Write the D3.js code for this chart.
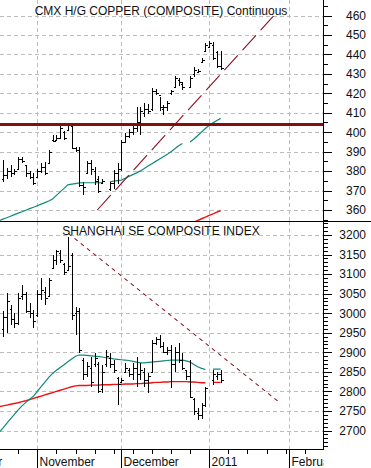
<!DOCTYPE html>
<html>
<head>
<meta charset="utf-8">
<script src="https://cdn.jsdelivr.net/npm/d3@7"></script>
<style>
  body { margin: 0; background: #fff; }
  svg { display: block; font-family: "Liberation Sans", Arial, sans-serif; }
</style>
</head>
<body>
<div id="chart"></div>
<script>
// trading-day index, 0 = Mon 1 Nov 2010 (weekdays, holidays left empty)
const days = d3.range(-10, 49);

// CMX copper, cents/lb (OHLC per day, null = no trading)
const copperOpen  = [null,376,378,380,379,381,386,383,379,377,377,380,382,384,396,396,397,400,401,403,392,391,373,379,384,380,376,374,null,371,374,379,381,395,398,400,402,404,410,412,412,421,419,412,413,420,423,427,425,null,423,430,431,436,442,444,445,441,434];
const copperHigh  = [null,385.5,381.5,383,381,387.5,387,383,380,379,381,384,384.5,391,398.5,398.5,404.5,400.5,404.5,403,392.5,392.5,374.5,385,385.5,382,377.5,376,null,374.5,380.5,384,396,399.5,401.5,404,413,413,415,414.5,422.5,422,418,414,416,421.5,429,428,426,null,429,433.5,432.5,438,446,447,446.5,442,441.5];
const copperLow   = [null,374.5,376,377,378,381,384,377,376,373,377,379,378,384,395,396,396.5,396,401,391.5,390,372,367.5,379,378,373,368.5,373.5,null,370,371,373.5,380,394.5,397,398.5,400,398.5,408,409.5,411,419,411,409,411,419,422.5,424,421.5,null,422.5,428.5,430.5,435.5,441,443.5,437,433,432];
const copperClose = [null,378,380,379,380,386,385,379,377,374,380,382,379,390,395.5,397,402,397,403.5,392,391,373,372,384,381,375,370,375,null,374,379,381,395,398,400,402,405,411,412,411,421,420,413,413,415,421,428,426,423,null,428,432,431.5,437,445,446,438,434,433];
const copperMA50  = [354.5,355.3,356.0,356.8,357.6,358.4,359.1,359.9,360.7,361.4,362.2,363.0,363.8,364.6,365.7,367.5,369.3,371.1,372.9,373.3,373.6,373.9,374.0,374.0,374.0,374.0,374.0,374.1,null,374.5,374.8,375.1,375.4,376.3,377.3,378.2,379.1,380.1,381.3,382.6,383.8,385.0,386.2,387.4,388.6,390.0,391.5,393.0,394.2,null,395.0,396.5,398.3,400.1,401.9,403.6,404.8,406.0,407.1];
const copperMA200 = [null,null,null,null,null,null,null,null,null,null,null,null,null,null,null,null,null,null,null,null,null,null,null,null,null,null,null,null,null,null,null,null,null,null,null,null,null,null,null,null,null,null,null,null,null,null,null,null,null,null,352.8,353.7,354.6,355.5,356.3,357.2,358.0,358.9,359.6];
const copperLevel = 404;
const copperTrend = [[15.7, 360], [61.8, 459.7]];

// Shanghai SE Composite
const shOpen  = [null,2960,2990,3010,2985,2975,3045,3050,3005,3000,2995,3050,3055,3045,3115,3135,3155,3125,3110,3150,3000,3005,2880,2845,2860,2870,2870,2805,2870,2885,2870,2835,2825,2850,2855,2845,2860,2845,2850,2830,2850,2925,2935,2915,2900,2905,2870,2900,2880,2855,2840,2780,2745,2740,2765,null,2830,2840,2845];
const shHigh  = [null,3005,3051,3021,3000,3051,3072,3055,3026,3008,3059,3090,3068,3090,3149,3162,3162,3128,3196,3154,3017,3013,2886,2876,2889,2898,2876,2868,2906,2898,2880,2838,2833,2872,2859,2872,2889,2872,2859,2846,2931,2940,2944,2927,2914,2919,2914,2923,2898,2855,2880,2782,2757,2770,2812,null,2855,2850,2855];
const shLow   = [null,2940,2949,2970,2962,2970,3034,3000,2987,2962,2991,3034,3021,3042,3115,3123,3128,3098,3111,2983,2944,2898,2829,2838,2812,2863,2795,2795,2863,2859,2846,2765,2821,2846,2838,2829,2812,2829,2812,2795,2850,2919,2910,2897,2893,2808,2850,2872,2855,2829,2782,2740,2727,2730,2761,null,2816,2829,2821];
const shClose = [null,2990,3030,2985,2975,3040,3050,3005,3000,2980,3050,3060,3040,3085,3135,3158,3135,3105,3120,2995,3005,2905,2845,2865,2825,2885,2800,2850,2890,2870,2855,2820,2830,2860,2845,2860,2845,2855,2830,2840,2925,2935,2915,2900,2905,2870,2900,2880,2860,2840,2785,2750,2740,2765,2808,null,2845,2845,2830];
const shMA50  = [2695,2706,2718,2730,2741,2753,2763,2772,2780,2788,2800,2812,2824,2836,2846,2854,2861,2868,2876,2883,2890,2893,2893,2892,2891,2890,2889,2888,2886,2885,2883,2882,2881,2880,2879,2877,2875,2873,2873,2874,2875,2876,2877,2878,2879,2880,2880,2880,2880,2878,2875,2869,2863,2859,2856,null,2857,2857,2857];
const shMA200 = [2761,2763,2765,2767,2769,2771,2774,2776,2779,2782,2785,2788,2791,2794,2797,2800,2803,2806,2809,2812,2814,2815,2815,2815,2816,2816,2816,2817,2817,2817,2818,2818,2818,2819,2819,2819,2820,2820,2821,2821,2822,2823,2823,2824,2824,2825,2825,2825,2825,2825,2824,2824,2823,2822,2822,null,2823,2823,2823];
const shTrend = [[8.1, 3204], [63.1, 2774]];

// axis ticks
const copperTicks = d3.range(360, 461, 10);
const copperMinor = d3.range(355, 466, 5);
const shTicks = d3.range(2700, 3201, 50);
const shMinor = d3.range(2660, 3231, 10);
const monthStarts = [-21, 0, 22, 45, 66];
const monthNames = ["October", "November", "December", "2011", "February"];
const weekTicks = [-10, -5, 5, 10, 15, 20, 25, 30, 35, 40, 50, 55, 60, 65, 70];

const width = 371, height = 468;
const plotRight = 323.5;
const topPanel = [0, 221.5];
const botPanel = [221.5, 449.5];

const svg = d3.select("#chart").append("svg")
    .attr("width", width)
    .attr("height", height);

const x = d3.scaleLinear().domain([-9.764, 75.05]).range([0, 324]);
const yCu = d3.scaleLinear().domain([360, 460]).range([210, 15.5]);
const ySh = d3.scaleLinear().domain([2700, 3200]).range([430.5, 235]);
const px = v => Math.round(x(v)) + 0.5;

const defs = svg.append("defs");
defs.append("clipPath").attr("id", "clipTop")
  .append("rect").attr("x", 0).attr("y", topPanel[0]).attr("width", plotRight).attr("height", topPanel[1] - topPanel[0]);
defs.append("clipPath").attr("id", "clipBot")
  .append("rect").attr("x", 0).attr("y", botPanel[0]).attr("width", plotRight).attr("height", botPanel[1] - botPanel[0]);
defs.append("clipPath").attr("id", "clipAxis")
  .append("rect").attr("x", 0).attr("y", botPanel[1]).attr("width", plotRight).attr("height", 30);

const gridColor = "#bdbdbd";

function drawPanel(clipId, y, panel, ticks, minor, bars, ma50, ma200, trend, trendDash, title, titleY) {
  const g = svg.append("g").attr("clip-path", "url(#" + clipId + ")");

  // horizontal grid
  g.selectAll(".hgrid").data(ticks).enter().append("line")
      .attr("x1", 0).attr("x2", plotRight)
      .attr("y1", d => Math.round(y(d)) + 0.5).attr("y2", d => Math.round(y(d)) + 0.5)
      .attr("stroke", gridColor).attr("stroke-dasharray", "4,3");

  // vertical grid at month starts
  g.selectAll(".vgrid").data(monthStarts).enter().append("line")
      .attr("x1", px).attr("x2", px)
      .attr("y1", panel[0]).attr("y2", panel[1])
      .attr("stroke", gridColor).attr("stroke-dasharray", "4,3");

  // title
  svg.append("text")
      .attr("x", 161).attr("y", titleY)
      .attr("text-anchor", "middle")
      .style("font-size", "12px")
      .attr("fill", "#111")
      .text(title);

  // moving averages
  const line = d3.line()
      .defined(d => d[1] != null)
      .x(d => x(d[0]))
      .y(d => y(d[1]));

  if (ma200) {
    g.append("path")
        .datum(days.map((d, i) => [d, ma200[i]]))
        .attr("d", line)
        .attr("fill", "none").attr("stroke", "#ee1111").attr("stroke-width", 1.4);
  }
  g.append("path")
      .datum(days.map((d, i) => [d, ma50[i]]))
      .attr("d", line)
      .attr("fill", "none").attr("stroke", "#0f8a78").attr("stroke-width", 1.2);

  // trend line
  g.append("path")
      .datum(trend)
      .attr("d", d3.line().x(d => x(d[0])).y(d => y(d[1])))
      .attr("fill", "none").attr("stroke", "#8b1022").attr("stroke-width", 1.1)
      .attr("stroke-dasharray", trendDash);

  // OHLC bars
  const data = days.map((d, i) => ({ i: d, o: bars[0][i], h: bars[1][i], l: bars[2][i], c: bars[3][i] }))
      .filter(d => d.h != null);
  const bar = g.selectAll(".bar").data(data).enter().append("g")
      .attr("stroke", "#000").attr("shape-rendering", "crispEdges");
  bar.append("line")
      .attr("x1", d => px(d.i)).attr("x2", d => px(d.i))
      .attr("y1", d => y(d.h)).attr("y2", d => y(d.l));
  bar.append("line")
      .attr("x1", d => px(d.i) - 2).attr("x2", d => px(d.i))
      .attr("y1", d => Math.round(y(d.o)) + 0.5).attr("y2", d => Math.round(y(d.o)) + 0.5);
  bar.append("line")
      .attr("x1", d => px(d.i)).attr("x2", d => px(d.i) + 2)
      .attr("y1", d => Math.round(y(d.c)) + 0.5).attr("y2", d => Math.round(y(d.c)) + 0.5);

  // right axis
  const axG = svg.append("g").attr("transform", "translate(" + plotRight + ",0)");
  axG.append("g")
      .call(d3.axisRight(y).tickValues(minor.filter(v => y(v) > panel[0] && y(v) < panel[1])).tickSize(4).tickFormat(""))
      .call(a => a.select(".domain").remove());
  axG.append("g")
      .call(d3.axisRight(y).tickValues(ticks).tickSize(8).tickFormat(d3.format("d")))
      .call(a => a.select(".domain").remove())
      .call(a => a.selectAll("text")
          .attr("x", 42.5).attr("text-anchor", "end")
          .style("font-size", "12px").style("font-family", "'Liberation Sans', Arial, sans-serif")
          .attr("fill", "#111"));
  axG.selectAll("line").attr("shape-rendering", "crispEdges").attr("stroke", "#000");

  return g;
}

const cuG = drawPanel("clipTop", yCu, topPanel, copperTicks, copperMinor,
    [copperOpen, copperHigh, copperLow, copperClose], copperMA50, copperMA200,
    copperTrend, "20,7", "CMX H/G COPPER (COMPOSITE) Continuous", 15);

// horizontal resistance level on copper
cuG.append("line")
    .attr("x1", 0).attr("x2", plotRight)
    .attr("y1", yCu(copperLevel)).attr("y2", yCu(copperLevel))
    .attr("stroke", "#860d0d").attr("stroke-width", 3);

drawPanel("clipBot", ySh, botPanel, shTicks, shMinor,
    [shOpen, shHigh, shLow, shClose], shMA50, shMA200,
    shTrend, "4,4", "SHANGHAI SE COMPOSITE INDEX", 235);

// frame lines
svg.append("line").attr("x1", 0).attr("x2", width).attr("y1", topPanel[1]).attr("y2", topPanel[1])
    .attr("stroke", "#000").attr("shape-rendering", "crispEdges");
svg.append("line").attr("x1", plotRight).attr("x2", plotRight).attr("y1", 0).attr("y2", botPanel[1])
    .attr("stroke", "#000").attr("shape-rendering", "crispEdges");

// bottom time axis: weekly minor ticks, month major ticks and labels
const xAx = svg.append("g").attr("clip-path", "url(#clipAxis)");
xAx.append("g")
    .attr("transform", "translate(0," + botPanel[1] + ")")
    .call(d3.axisBottom(x).tickValues(weekTicks).tickSize(4).tickFormat(""))
    .call(a => a.select(".domain").remove());
xAx.append("g")
    .attr("transform", "translate(0," + botPanel[1] + ")")
    .call(d3.axisBottom(x).tickValues(monthStarts).tickSize(20).tickFormat(""))
    .call(a => a.select(".domain").remove());
xAx.selectAll(".tick").attr("transform", d => "translate(" + px(d) + ",0)");
xAx.selectAll("line").attr("stroke", "#000").attr("shape-rendering", "crispEdges");
xAx.selectAll(".month").data(monthStarts).enter().append("text")
    .attr("x", d => Math.round(x(d)) + 2.5)
    .attr("y", 465.5)
    .style("font-size", "12px")
    .attr("fill", "#111")
    .text((d, i) => monthNames[i]);
svg.append("line").attr("x1", 0).attr("x2", plotRight).attr("y1", botPanel[1]).attr("y2", botPanel[1])
    .attr("stroke", "#000").attr("shape-rendering", "crispEdges");
</script>
</body>
</html>
